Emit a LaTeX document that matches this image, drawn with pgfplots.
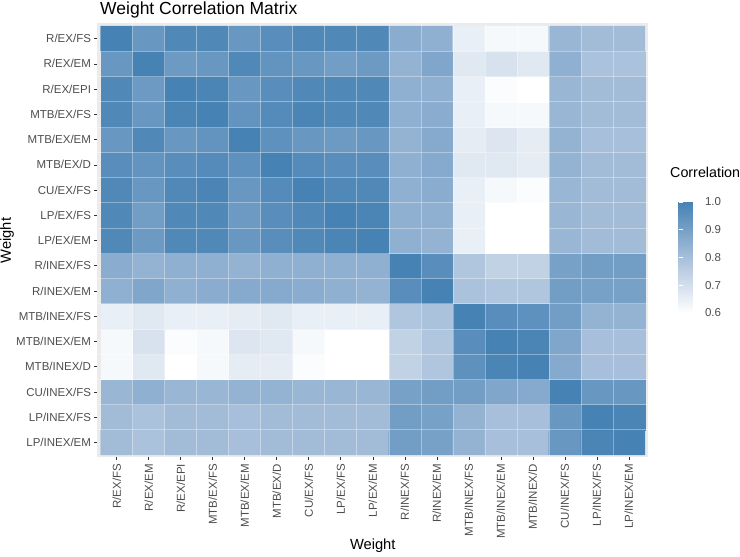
\documentclass[border=0pt]{standalone}
\usepackage{fontspec}
\setmainfont{Liberation Sans}
\usepackage{pgfplots}
\pgfplotsset{compat=1.18}
\definecolor{gray30}{RGB}{77,77,77}
\definecolor{gray20}{RGB}{51,51,51}
\definecolor{gray92}{RGB}{235,235,235}
\begin{document}
\begin{tikzpicture}
\path[use as bounding box] (0,0) rectangle (740pt,557pt);
\begin{axis}[
  at={(97.5pt,99.5pt)}, anchor=south west,
  scale only axis, width=550.5pt, height=434pt,
  xmin=-0.6, xmax=16.6, ymin=-0.6, ymax=16.6,
  enlargelimits=false,
  axis background/.style={fill=gray92},
  axis line style={draw=none},
  tick align=outside, major tick length=3pt,
  tick style={gray20, line width=0.5pt},
  xtick={0,...,16}, ytick={0,...,16},
  xtick pos=bottom, ytick pos=left,
  xticklabels={R/EX/FS, R/EX/EM, R/EX/EPI, MTB/EX/FS, MTB/EX/EM, MTB/EX/D, CU/EX/FS, LP/EX/FS, LP/EX/EM, R/INEX/FS, R/INEX/EM, MTB/INEX/FS, MTB/INEX/EM, MTB/INEX/D, CU/INEX/FS, LP/INEX/FS, LP/INEX/EM},
  yticklabels={LP/INEX/EM, LP/INEX/FS, CU/INEX/FS, MTB/INEX/D, MTB/INEX/EM, MTB/INEX/FS, R/INEX/EM, R/INEX/FS, LP/EX/EM, LP/EX/FS, CU/EX/FS, MTB/EX/D, MTB/EX/EM, MTB/EX/FS, R/EX/EPI, R/EX/EM, R/EX/FS},
  xticklabel style={rotate=90, anchor=east, font=\fontsize{11.5}{13}\selectfont, text=gray30},
  yticklabel style={font=\fontsize{11.5}{13}\selectfont, text=gray30},
  minor xtick={0.5,1.5,...,15.5}, minor ytick={0.5,1.5,...,15.5},
  minor tick length=0pt,
  xminorgrids, yminorgrids,
  minor grid style={white, line width=0.5pt, opacity=0.35},
  axis on top,
  colormap={ggsteel}{rgb255=(255,255,255) rgb255=(167,191,218) rgb255=(70,130,180)},
  point meta min=0.6, point meta max=1.0,
  colorbar,
  colorbar style={
    at={(parent axis.east)}, anchor=west, xshift=22pt, yshift=-17pt,
    scale only axis, width=22pt, height=111pt,
    ytick={0.6,0.7,0.8,0.9,1.0},
    axis line style={draw=none},
    tick align=inside, major tick length=4.5pt,
    tick style={white, line width=0.6pt},
    ytick pos=both, yticklabel pos=right,
    yticklabel style={font=\fontsize{11.5}{13}\selectfont, text=gray30, xshift=1pt,
      /pgf/number format/.cd, fixed, fixed zerofill, precision=1, assume math mode=true},
  },
]
\addplot[matrix plot*, mesh/cols=17, point meta=explicit] coordinates {
(0,0)[0.81] (1,0)[0.79] (2,0)[0.81] (3,0)[0.81] (4,0)[0.80] (5,0)[0.81] (6,0)[0.81] (7,0)[0.81] (8,0)[0.81] (9,0)[0.91] (10,0)[0.90] (11,0)[0.84] (12,0)[0.80] (13,0)[0.80] (14,0)[0.93] (15,0)[0.99] (16,0)[1.00]
(0,1)[0.81] (1,1)[0.79] (2,1)[0.81] (3,1)[0.81] (4,1)[0.80] (5,1)[0.81] (6,1)[0.81] (7,1)[0.81] (8,1)[0.81] (9,1)[0.91] (10,1)[0.90] (11,1)[0.84] (12,1)[0.80] (13,1)[0.80] (14,1)[0.93] (15,1)[1.00] (16,1)[0.99]
(0,2)[0.83] (1,2)[0.85] (2,2)[0.83] (3,2)[0.83] (4,2)[0.84] (5,2)[0.84] (6,2)[0.83] (7,2)[0.83] (8,2)[0.83] (9,2)[0.90] (10,2)[0.91] (11,2)[0.91] (12,2)[0.88] (13,2)[0.87] (14,2)[1.00] (15,2)[0.93] (16,2)[0.93]
(0,3)[0.62] (1,3)[0.67] (2,3)[0.60] (3,3)[0.62] (4,3)[0.66] (5,3)[0.66] (6,3)[0.61] (7,3)[0.60] (8,3)[0.60] (9,3)[0.74] (10,3)[0.78] (11,3)[0.95] (12,3)[0.99] (13,3)[1.00] (14,3)[0.87] (15,3)[0.80] (16,3)[0.80]
(0,4)[0.62] (1,4)[0.69] (2,4)[0.61] (3,4)[0.62] (4,4)[0.68] (5,4)[0.67] (6,4)[0.62] (7,4)[0.60] (8,4)[0.60] (9,4)[0.74] (10,4)[0.78] (11,4)[0.96] (12,4)[1.00] (13,4)[0.99] (14,4)[0.88] (15,4)[0.80] (16,4)[0.80]
(0,5)[0.65] (1,5)[0.67] (2,5)[0.65] (3,5)[0.65] (4,5)[0.66] (5,5)[0.67] (6,5)[0.65] (7,5)[0.65] (8,5)[0.65] (9,5)[0.78] (10,5)[0.79] (11,5)[1.00] (12,5)[0.96] (13,5)[0.95] (14,5)[0.91] (15,5)[0.84] (16,5)[0.84]
(0,6)[0.85] (1,6)[0.88] (2,6)[0.85] (3,6)[0.86] (4,6)[0.87] (5,6)[0.87] (6,6)[0.86] (7,6)[0.85] (8,6)[0.84] (9,6)[0.96] (10,6)[1.00] (11,6)[0.79] (12,6)[0.78] (13,6)[0.78] (14,6)[0.91] (15,6)[0.90] (16,6)[0.90]
(0,7)[0.86] (1,7)[0.84] (2,7)[0.85] (3,7)[0.85] (4,7)[0.84] (5,7)[0.85] (6,7)[0.85] (7,7)[0.85] (8,7)[0.85] (9,7)[1.00] (10,7)[0.96] (11,7)[0.78] (12,7)[0.74] (13,7)[0.74] (14,7)[0.90] (15,7)[0.91] (16,7)[0.91]
(0,8)[0.98] (1,8)[0.92] (2,8)[0.98] (3,8)[0.98] (4,8)[0.93] (5,8)[0.96] (6,8)[0.98] (7,8)[0.99] (8,8)[1.00] (9,8)[0.85] (10,8)[0.84] (11,8)[0.65] (12,8)[0.60] (13,8)[0.60] (14,8)[0.83] (15,8)[0.81] (16,8)[0.81]
(0,9)[0.98] (1,9)[0.91] (2,9)[0.98] (3,9)[0.98] (4,9)[0.92] (5,9)[0.96] (6,9)[0.98] (7,9)[1.00] (8,9)[0.99] (9,9)[0.85] (10,9)[0.85] (11,9)[0.65] (12,9)[0.60] (13,9)[0.60] (14,9)[0.83] (15,9)[0.81] (16,9)[0.81]
(0,10)[0.98] (1,10)[0.93] (2,10)[0.98] (3,10)[0.99] (4,10)[0.93] (5,10)[0.97] (6,10)[1.00] (7,10)[0.98] (8,10)[0.98] (9,10)[0.85] (10,10)[0.86] (11,10)[0.65] (12,10)[0.62] (13,10)[0.61] (14,10)[0.83] (15,10)[0.81] (16,10)[0.81]
(0,11)[0.96] (1,11)[0.94] (2,11)[0.96] (3,11)[0.97] (4,11)[0.95] (5,11)[1.00] (6,11)[0.97] (7,11)[0.96] (8,11)[0.96] (9,11)[0.85] (10,11)[0.87] (11,11)[0.67] (12,11)[0.67] (13,11)[0.66] (14,11)[0.84] (15,11)[0.81] (16,11)[0.81]
(0,12)[0.93] (1,12)[0.98] (2,12)[0.93] (3,12)[0.94] (4,12)[1.00] (5,12)[0.95] (6,12)[0.93] (7,12)[0.92] (8,12)[0.93] (9,12)[0.84] (10,12)[0.87] (11,12)[0.66] (12,12)[0.68] (13,12)[0.66] (14,12)[0.84] (15,12)[0.80] (16,12)[0.80]
(0,13)[0.98] (1,13)[0.93] (2,13)[0.99] (3,13)[1.00] (4,13)[0.94] (5,13)[0.97] (6,13)[0.99] (7,13)[0.98] (8,13)[0.98] (9,13)[0.85] (10,13)[0.86] (11,13)[0.65] (12,13)[0.62] (13,13)[0.62] (14,13)[0.83] (15,13)[0.81] (16,13)[0.81]
(0,14)[0.98] (1,14)[0.92] (2,14)[1.00] (3,14)[0.99] (4,14)[0.93] (5,14)[0.96] (6,14)[0.98] (7,14)[0.98] (8,14)[0.98] (9,14)[0.85] (10,14)[0.85] (11,14)[0.65] (12,14)[0.61] (13,14)[0.60] (14,14)[0.83] (15,14)[0.81] (16,14)[0.81]
(0,15)[0.93] (1,15)[1.00] (2,15)[0.92] (3,15)[0.93] (4,15)[0.98] (5,15)[0.94] (6,15)[0.93] (7,15)[0.91] (8,15)[0.92] (9,15)[0.84] (10,15)[0.88] (11,15)[0.67] (12,15)[0.69] (13,15)[0.67] (14,15)[0.85] (15,15)[0.79] (16,15)[0.79]
(0,16)[1.00] (1,16)[0.93] (2,16)[0.98] (3,16)[0.98] (4,16)[0.93] (5,16)[0.96] (6,16)[0.98] (7,16)[0.98] (8,16)[0.98] (9,16)[0.86] (10,16)[0.85] (11,16)[0.65] (12,16)[0.62] (13,16)[0.62] (14,16)[0.83] (15,16)[0.81] (16,16)[0.81]
};
\end{axis}
\node[anchor=base west, font=\fontsize{17.5}{20}\selectfont, inner sep=0pt] at (100pt,542.5pt) {Weight Correlation Matrix};
\node[anchor=base, font=\fontsize{14.7}{17}\selectfont, inner sep=0pt] at (372.75pt,7pt) {Weight};
\node[anchor=center, rotate=90, font=\fontsize{14.7}{17}\selectfont, inner sep=0pt] at (7pt,316.5pt) {Weight};
\node[anchor=west, font=\fontsize{14.3}{17}\selectfont, inner sep=0pt] at (670pt,385pt) {Correlation};
\end{tikzpicture}
\end{document}
